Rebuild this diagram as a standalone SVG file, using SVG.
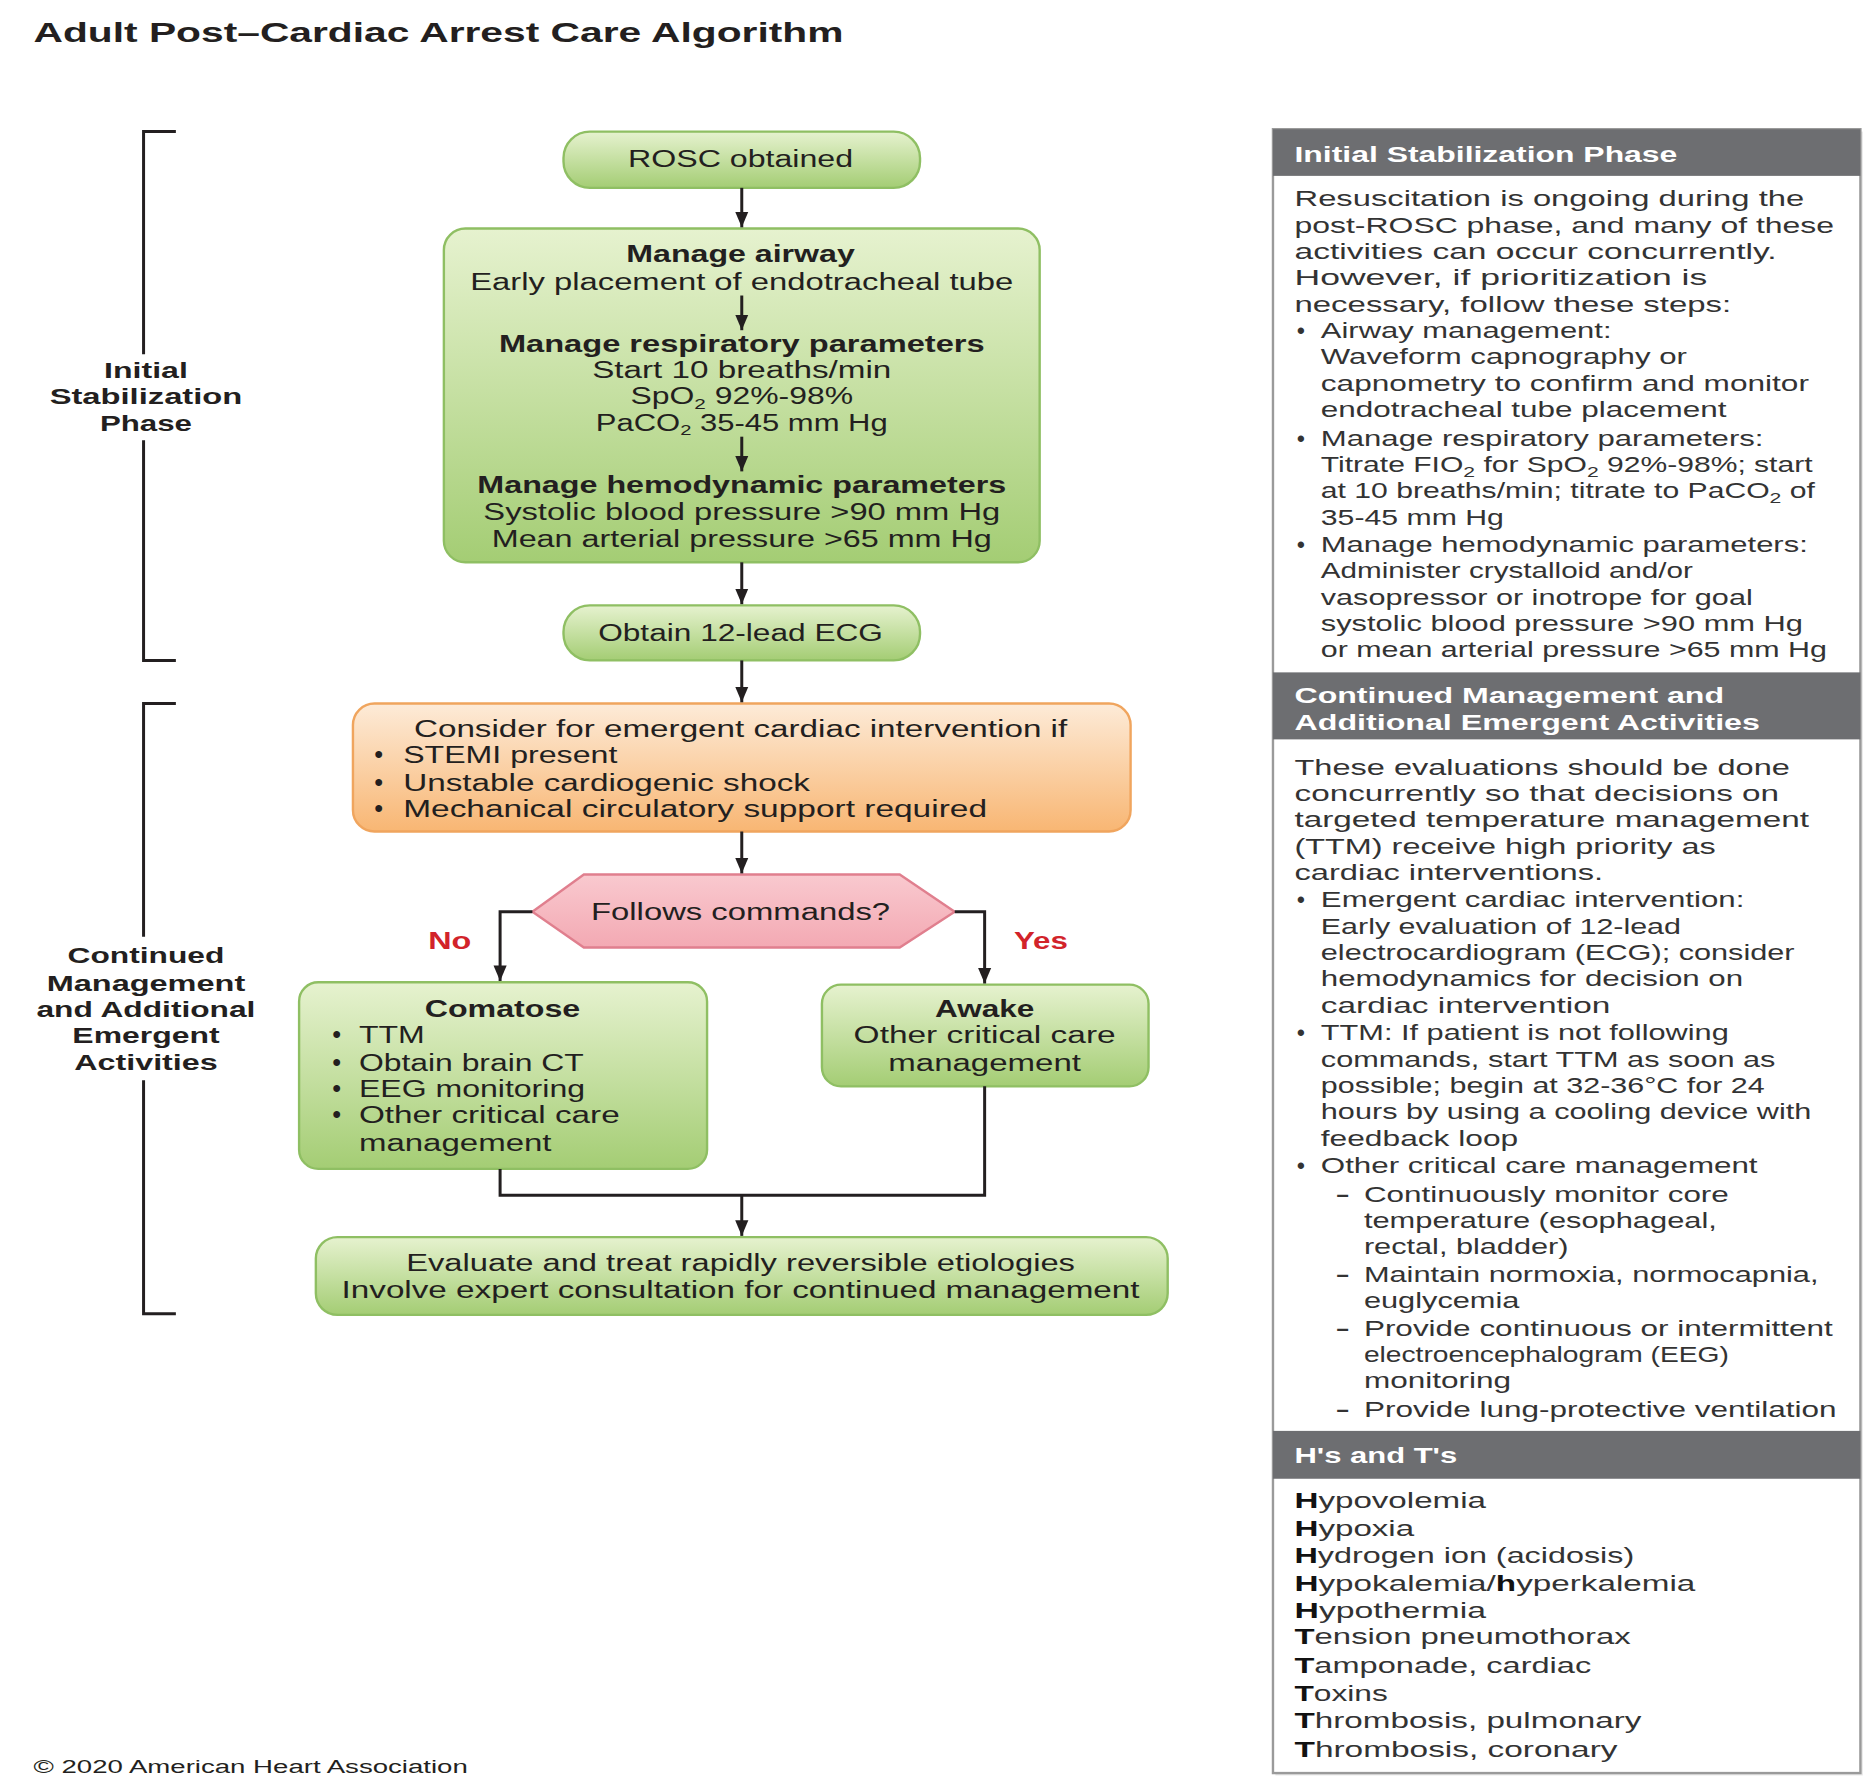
<svg xmlns="http://www.w3.org/2000/svg" width="1876" height="1786" viewBox="0 0 1876 1786">
<defs>
<style>
text{font-family:"Liberation Sans",Arial,sans-serif;fill:#231f20}
.fc{font-size:20px}
.b{font-weight:bold}
.m{text-anchor:middle}
.bul{font-weight:bold}
.lbl{font-size:19px;font-weight:bold;text-anchor:middle}
.p{font-size:18.5px;fill:#333}
.ph{font-size:19px;font-weight:bold;fill:#fff}
.sub{font-size:13px}
.red{fill:#d2232a;font-weight:bold;font-size:20px;text-anchor:middle}
.green{fill:url(#gGreen);stroke:#8fbf63;stroke-width:2}
.orange{fill:url(#gOrange);stroke:#f0a55e;stroke-width:2}
.pink{fill:url(#gPink);stroke:#e07f8e;stroke-width:2}
.conn{fill:none;stroke:#231f20;stroke-width:2.5}
.arr{marker-end:url(#ah)}
.brk{fill:none;stroke:#231f20;stroke-width:2.5}
.band{fill:#6d6e71}
</style>
<linearGradient id="gGreen" x1="0" y1="0" x2="0" y2="1">
<stop offset="0" stop-color="#e6f2cf"/>
<stop offset="1" stop-color="#a4cd74"/>
</linearGradient>
<linearGradient id="gOrange" x1="0" y1="0" x2="0" y2="1">
<stop offset="0" stop-color="#fdebd8"/>
<stop offset="1" stop-color="#f8b673"/>
</linearGradient>
<linearGradient id="gPink" x1="0" y1="0" x2="0" y2="1">
<stop offset="0" stop-color="#f9c9cf"/>
<stop offset="1" stop-color="#f3a9b3"/>
</linearGradient>
<marker id="ah" markerUnits="userSpaceOnUse" markerWidth="13" markerHeight="12" viewBox="0 0 13 11" refX="13" refY="5.5" orient="auto">
<path d="M0,0 L13,5.5 L0,11 z" fill="#231f20"/>
</marker>
</defs>
<rect width="1876" height="1786" fill="#fff"/>
<g transform="scale(1.1964)">

<g id="title">
<text x="28" y="35" class="b" font-size="23" textLength="677" lengthAdjust="spacingAndGlyphs">Adult Post–Cardiac Arrest Care Algorithm</text>
</g>

<g id="bracket-initial">
<path class="brk" d="M147,110 H120 V296 M120,368 V552 H147"/>
<text class="lbl" x="122" y="316" textLength="70" lengthAdjust="spacingAndGlyphs">Initial</text>
<text class="lbl" x="122" y="338" textLength="161" lengthAdjust="spacingAndGlyphs">Stabilization</text>
<text class="lbl" x="122" y="360" textLength="77" lengthAdjust="spacingAndGlyphs">Phase</text>
</g>

<g id="bracket-continued">
<path class="brk" d="M147,588 H120 V783 M120,903 V1098 H147"/>
<text class="lbl" x="122" y="805" textLength="131" lengthAdjust="spacingAndGlyphs">Continued</text>
<text class="lbl" x="122" y="828" textLength="166" lengthAdjust="spacingAndGlyphs">Management</text>
<text class="lbl" x="122" y="850" textLength="183" lengthAdjust="spacingAndGlyphs">and Additional</text>
<text class="lbl" x="122" y="872" textLength="123" lengthAdjust="spacingAndGlyphs">Emergent</text>
<text class="lbl" x="122" y="894" textLength="120" lengthAdjust="spacingAndGlyphs">Activities</text>
</g>

<g id="node-rosc">
<rect class="green" x="471" y="110" width="298" height="47" rx="22"/>
<text class="fc m" x="619" y="140" textLength="188" lengthAdjust="spacingAndGlyphs">ROSC obtained</text>
</g>

<g id="node-stabilize">
<rect class="green" x="371" y="191" width="498" height="279" rx="18"/>
<text class="fc m b" x="619" y="219" textLength="191" lengthAdjust="spacingAndGlyphs">Manage airway</text>
<text class="fc m" x="620" y="242" textLength="454" lengthAdjust="spacingAndGlyphs">Early placement of endotracheal tube</text>
<text class="fc m b" x="620" y="294" textLength="406" lengthAdjust="spacingAndGlyphs">Manage respiratory parameters</text>
<text class="fc m" x="620" y="316" textLength="250" lengthAdjust="spacingAndGlyphs">Start 10 breaths/min</text>
<text class="fc m" x="620" y="338" textLength="186" lengthAdjust="spacingAndGlyphs">SpO<tspan class="sub" dy="4">2</tspan><tspan dy="-4"> 92%-98%</tspan></text>
<text class="fc m" x="620" y="360" textLength="244" lengthAdjust="spacingAndGlyphs">PaCO<tspan class="sub" dy="4">2</tspan><tspan dy="-4"> 35-45 mm Hg</tspan></text>
<text class="fc m b" x="620" y="412" textLength="442" lengthAdjust="spacingAndGlyphs">Manage hemodynamic parameters</text>
<text class="fc m" x="620" y="435" textLength="432" lengthAdjust="spacingAndGlyphs">Systolic blood pressure &gt;90 mm Hg</text>
<text class="fc m" x="620" y="457" textLength="418" lengthAdjust="spacingAndGlyphs">Mean arterial pressure &gt;65 mm Hg</text>
</g>

<g id="node-ecg">
<rect class="green" x="471" y="506" width="298" height="46" rx="22"/>
<text class="fc m" x="619" y="536" textLength="238" lengthAdjust="spacingAndGlyphs">Obtain 12-lead ECG</text>
</g>

<g id="node-emergent">
<rect class="orange" x="295" y="588" width="650" height="107" rx="18"/>
<text class="fc m" x="619" y="616" textLength="546" lengthAdjust="spacingAndGlyphs">Consider for emergent cardiac intervention if</text>
<text class="fc bul" x="313" y="638">•</text>
<text class="fc" x="337" y="638" textLength="179" lengthAdjust="spacingAndGlyphs">STEMI present</text>
<text class="fc bul" x="313" y="661">•</text>
<text class="fc" x="337" y="661" textLength="340" lengthAdjust="spacingAndGlyphs">Unstable cardiogenic shock</text>
<text class="fc bul" x="313" y="683">•</text>
<text class="fc" x="337" y="683" textLength="488" lengthAdjust="spacingAndGlyphs">Mechanical circulatory support required</text>
</g>

<g id="node-decision">
<polygon class="pink" points="445,762 488,731 752,731 798,762 752,792 488,792"/>
<text class="fc m" x="619" y="769" textLength="250" lengthAdjust="spacingAndGlyphs">Follows commands?</text>
</g>

<g id="node-comatose">
<rect class="green" x="250" y="821" width="341" height="156" rx="16"/>
<text class="fc m b" x="420" y="850" textLength="130" lengthAdjust="spacingAndGlyphs">Comatose</text>
<text class="fc bul" x="278" y="872">•</text>
<text class="fc" x="300" y="872" textLength="55" lengthAdjust="spacingAndGlyphs">TTM</text>
<text class="fc bul" x="278" y="895">•</text>
<text class="fc" x="300" y="895" textLength="188" lengthAdjust="spacingAndGlyphs">Obtain brain CT</text>
<text class="fc bul" x="278" y="917">•</text>
<text class="fc" x="300" y="917" textLength="189" lengthAdjust="spacingAndGlyphs">EEG monitoring</text>
<text class="fc bul" x="278" y="939">•</text>
<text class="fc" x="300" y="939" textLength="218" lengthAdjust="spacingAndGlyphs">Other critical care</text>
<text class="fc" x="300" y="962" textLength="161" lengthAdjust="spacingAndGlyphs">management</text>
</g>

<g id="node-awake">
<rect class="green" x="687" y="823" width="273" height="85" rx="16"/>
<text class="fc m b" x="823" y="850" textLength="83" lengthAdjust="spacingAndGlyphs">Awake</text>
<text class="fc m" x="823" y="872" textLength="219" lengthAdjust="spacingAndGlyphs">Other critical care</text>
<text class="fc m" x="823" y="895" textLength="161" lengthAdjust="spacingAndGlyphs">management</text>
</g>

<g id="node-evaluate">
<rect class="green" x="264" y="1034" width="712" height="65" rx="18"/>
<text class="fc m" x="619" y="1062" textLength="559" lengthAdjust="spacingAndGlyphs">Evaluate and treat rapidly reversible etiologies</text>
<text class="fc m" x="619" y="1085" textLength="667" lengthAdjust="spacingAndGlyphs">Involve expert consultation for continued management</text>
</g>

<g id="connectors">
<path class="conn arr" d="M620,157 V190"/>
<path class="conn arr" d="M620,247 V276"/>
<path class="conn arr" d="M620,365 V394"/>
<path class="conn arr" d="M620,470 V505"/>
<path class="conn arr" d="M620,552 V587"/>
<path class="conn arr" d="M620,695 V730"/>
<path class="conn arr" d="M445,762 H418 V820"/>
<path class="conn arr" d="M798,762 H823 V822"/>
<path class="conn" d="M418,977 V999 H823 V908"/>
<path class="conn arr" d="M620,999 V1033"/>
<text class="red" x="376" y="793" textLength="36" lengthAdjust="spacingAndGlyphs">No</text>
<text class="red" x="870" y="793" textLength="45" lengthAdjust="spacingAndGlyphs">Yes</text>
</g>

<g id="copyright">
<text x="28" y="1482" font-size="15" fill="#444" textLength="363" lengthAdjust="spacingAndGlyphs">© 2020 American Heart Association</text>
</g>

<g id="panel">
<rect x="1066" y="110" width="491" height="1374" fill="#e6e6e6"/>
<rect x="1064" y="108" width="491" height="1374" fill="#fff" stroke="#9a9a9a" stroke-width="2"/>
<rect class="band" x="1064" y="108" width="491" height="39"/>
<rect class="band" x="1064" y="562" width="491" height="56"/>
<rect class="band" x="1064" y="1196" width="491" height="40"/>

<text class="ph" x="1082" y="135" textLength="320" lengthAdjust="spacingAndGlyphs">Initial Stabilization Phase</text>
<text class="p" x="1082" y="172.5" textLength="426" lengthAdjust="spacingAndGlyphs">Resuscitation is ongoing during the</text>
<text class="p" x="1082" y="194.5" textLength="451" lengthAdjust="spacingAndGlyphs">post-ROSC phase, and many of these</text>
<text class="p" x="1082" y="216.5" textLength="403" lengthAdjust="spacingAndGlyphs">activities can occur concurrently.</text>
<text class="p" x="1082" y="238.5" textLength="345" lengthAdjust="spacingAndGlyphs">However, if prioritization is</text>
<text class="p" x="1082" y="260.5" textLength="365" lengthAdjust="spacingAndGlyphs">necessary, follow these steps:</text>
<text class="p bul" x="1084" y="282.5">•</text>
<text class="p" x="1104" y="282.5" textLength="243" lengthAdjust="spacingAndGlyphs">Airway management:</text>
<text class="p" x="1104" y="304.5" textLength="306" lengthAdjust="spacingAndGlyphs">Waveform capnography or</text>
<text class="p" x="1104" y="326.5" textLength="408" lengthAdjust="spacingAndGlyphs">capnometry to confirm and monitor</text>
<text class="p" x="1104" y="348.5" textLength="339" lengthAdjust="spacingAndGlyphs">endotracheal tube placement</text>
<text class="p bul" x="1084" y="372.5">•</text>
<text class="p" x="1104" y="372.5" textLength="370" lengthAdjust="spacingAndGlyphs">Manage respiratory parameters:</text>
<text class="p" x="1104" y="394.5" textLength="411" lengthAdjust="spacingAndGlyphs">Titrate FIO<tspan class="sub" dy="4">2</tspan><tspan dy="-4"> for SpO</tspan><tspan class="sub" dy="4">2</tspan><tspan dy="-4"> 92%-98%; start</tspan></text>
<text class="p" x="1104" y="416.5" textLength="413" lengthAdjust="spacingAndGlyphs">at 10 breaths/min; titrate to PaCO<tspan class="sub" dy="4">2</tspan><tspan dy="-4"> of</tspan></text>
<text class="p" x="1104" y="438.5" textLength="153" lengthAdjust="spacingAndGlyphs">35-45 mm Hg</text>
<text class="p bul" x="1084" y="461.5">•</text>
<text class="p" x="1104" y="461.5" textLength="407" lengthAdjust="spacingAndGlyphs">Manage hemodynamic parameters:</text>
<text class="p" x="1104" y="483.5" textLength="311" lengthAdjust="spacingAndGlyphs">Administer crystalloid and/or</text>
<text class="p" x="1104" y="505.5" textLength="361" lengthAdjust="spacingAndGlyphs">vasopressor or inotrope for goal</text>
<text class="p" x="1104" y="527.5" textLength="403" lengthAdjust="spacingAndGlyphs">systolic blood pressure &gt;90 mm Hg</text>
<text class="p" x="1104" y="549.5" textLength="423" lengthAdjust="spacingAndGlyphs">or mean arterial pressure &gt;65 mm Hg</text>

<text class="ph" x="1082" y="588" textLength="359" lengthAdjust="spacingAndGlyphs">Continued Management and</text>
<text class="ph" x="1082" y="610" textLength="389" lengthAdjust="spacingAndGlyphs">Additional Emergent Activities</text>
<text class="p" x="1082" y="647.5" textLength="414" lengthAdjust="spacingAndGlyphs">These evaluations should be done</text>
<text class="p" x="1082" y="669.5" textLength="405" lengthAdjust="spacingAndGlyphs">concurrently so that decisions on</text>
<text class="p" x="1082" y="691.5" textLength="430" lengthAdjust="spacingAndGlyphs">targeted temperature management</text>
<text class="p" x="1082" y="713.5" textLength="352" lengthAdjust="spacingAndGlyphs">(TTM) receive high priority as</text>
<text class="p" x="1082" y="735.5" textLength="258" lengthAdjust="spacingAndGlyphs">cardiac interventions.</text>
<text class="p bul" x="1084" y="758.5">•</text>
<text class="p" x="1104" y="758.5" textLength="354" lengthAdjust="spacingAndGlyphs">Emergent cardiac intervention:</text>
<text class="p" x="1104" y="780.5" textLength="301" lengthAdjust="spacingAndGlyphs">Early evaluation of 12-lead</text>
<text class="p" x="1104" y="802.5" textLength="396" lengthAdjust="spacingAndGlyphs">electrocardiogram (ECG); consider</text>
<text class="p" x="1104" y="824.5" textLength="353" lengthAdjust="spacingAndGlyphs">hemodynamics for decision on</text>
<text class="p" x="1104" y="846.5" textLength="242" lengthAdjust="spacingAndGlyphs">cardiac intervention</text>
<text class="p bul" x="1084" y="869.5">•</text>
<text class="p" x="1104" y="869.5" textLength="341" lengthAdjust="spacingAndGlyphs">TTM: If patient is not following</text>
<text class="p" x="1104" y="891.5" textLength="380" lengthAdjust="spacingAndGlyphs">commands, start TTM as soon as</text>
<text class="p" x="1104" y="913.5" textLength="371" lengthAdjust="spacingAndGlyphs">possible; begin at 32-36°C for 24</text>
<text class="p" x="1104" y="935.5" textLength="410" lengthAdjust="spacingAndGlyphs">hours by using a cooling device with</text>
<text class="p" x="1104" y="957.5" textLength="165" lengthAdjust="spacingAndGlyphs">feedback loop</text>
<text class="p bul" x="1084" y="980.5">•</text>
<text class="p" x="1104" y="980.5" textLength="365" lengthAdjust="spacingAndGlyphs">Other critical care management</text>
<text class="p bul" x="1117" y="1004.5">–</text>
<text class="p" x="1140" y="1004.5" textLength="305" lengthAdjust="spacingAndGlyphs">Continuously monitor core</text>
<text class="p" x="1140" y="1026.5" textLength="295" lengthAdjust="spacingAndGlyphs">temperature (esophageal,</text>
<text class="p" x="1140" y="1048.5" textLength="171" lengthAdjust="spacingAndGlyphs">rectal, bladder)</text>
<text class="p bul" x="1117" y="1071.5">–</text>
<text class="p" x="1140" y="1071.5" textLength="380" lengthAdjust="spacingAndGlyphs">Maintain normoxia, normocapnia,</text>
<text class="p" x="1140" y="1093.5" textLength="130" lengthAdjust="spacingAndGlyphs">euglycemia</text>
<text class="p bul" x="1117" y="1116.5">–</text>
<text class="p" x="1140" y="1116.5" textLength="392" lengthAdjust="spacingAndGlyphs">Provide continuous or intermittent</text>
<text class="p" x="1140" y="1138.5" textLength="305" lengthAdjust="spacingAndGlyphs">electroencephalogram (EEG)</text>
<text class="p" x="1140" y="1160.5" textLength="123" lengthAdjust="spacingAndGlyphs">monitoring</text>
<text class="p bul" x="1117" y="1184.5">–</text>
<text class="p" x="1140" y="1184.5" textLength="395" lengthAdjust="spacingAndGlyphs">Provide lung-protective ventilation</text>

<text class="ph" x="1082" y="1223" textLength="136" lengthAdjust="spacingAndGlyphs">H's and T's</text>
<text class="p" x="1082" y="1260.5" textLength="160" lengthAdjust="spacingAndGlyphs"><tspan font-weight="bold" fill="#111">H</tspan>ypovolemia</text>
<text class="p" x="1082" y="1283.5" textLength="100" lengthAdjust="spacingAndGlyphs"><tspan font-weight="bold" fill="#111">H</tspan>ypoxia</text>
<text class="p" x="1082" y="1306.5" textLength="284" lengthAdjust="spacingAndGlyphs"><tspan font-weight="bold" fill="#111">H</tspan>ydrogen ion (acidosis)</text>
<text class="p" x="1082" y="1329.5" textLength="335" lengthAdjust="spacingAndGlyphs"><tspan font-weight="bold" fill="#111">H</tspan>ypokalemia/<tspan font-weight="bold" fill="#111">h</tspan>yperkalemia</text>
<text class="p" x="1082" y="1352.5" textLength="160" lengthAdjust="spacingAndGlyphs"><tspan font-weight="bold" fill="#111">H</tspan>ypothermia</text>
<text class="p" x="1082" y="1374.5" textLength="281" lengthAdjust="spacingAndGlyphs"><tspan font-weight="bold" fill="#111">T</tspan>ension pneumothorax</text>
<text class="p" x="1082" y="1398.5" textLength="248" lengthAdjust="spacingAndGlyphs"><tspan font-weight="bold" fill="#111">T</tspan>amponade, cardiac</text>
<text class="p" x="1082" y="1421.5" textLength="78" lengthAdjust="spacingAndGlyphs"><tspan font-weight="bold" fill="#111">T</tspan>oxins</text>
<text class="p" x="1082" y="1444.5" textLength="290" lengthAdjust="spacingAndGlyphs"><tspan font-weight="bold" fill="#111">T</tspan>hrombosis, pulmonary</text>
<text class="p" x="1082" y="1468.5" textLength="270" lengthAdjust="spacingAndGlyphs"><tspan font-weight="bold" fill="#111">T</tspan>hrombosis, coronary</text>
</g>

</g>
</svg>
